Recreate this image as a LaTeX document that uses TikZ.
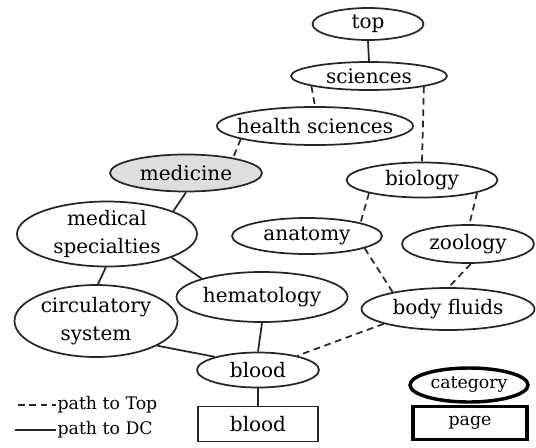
\documentclass[tikz,border=0pt]{standalone}
\usepackage{fontspec}
\setmainfont{DejaVu Serif}
\usetikzlibrary{shapes.geometric}
\begin{document}
\begin{tikzpicture}[x=0.75pt,y=-0.75pt,
  base/.style={inner sep=0pt,line width=1.3pt,draw=black!85},
  cat/.style n args={2}{base,ellipse,minimum width=#1*0.75pt,minimum height=#2*0.75pt},
  pg/.style n args={2}{base,rectangle,minimum width=#1*0.75pt,minimum height=#2*0.75pt},
  thickbox/.style={line width=2.6pt,draw=black},
  txt/.style={font=\fontsize{15}{21}\selectfont,align=center},
  smalltxt/.style={font=\fontsize{13}{16}\selectfont},
  dc/.style={line width=1.3pt,draw=black!85},
  tp/.style={line width=1.3pt,draw=black!85,dash pattern=on 5pt off 3.5pt},
]
\useasboundingbox (0,0) rectangle (536,447);
% category nodes
\node[cat={111}{32}, label={[txt]center:top}] (top) at (368,24) {};
\node[cat={156}{28}, label={[txt]center:sciences}] (sci) at (369,76) {};
\node[cat={196}{38}, label={[txt]center:health sciences}] (hs) at (315,126) {};
\node[cat={152}{37}, fill=black!13, label={[txt]center:medicine}] (med) at (186,173) {};
\node[cat={180}{65}, label={[txt]center:medical\\specialties}] (ms) at (107,234) {};
\node[cat={163}{72}, label={[txt]center:circulatory\\system}] (circ) at (96,321) {};
\node[cat={171}{50}, label={[txt]center:hematology}] (hem) at (262,297) {};
\node[cat={151}{35}, label={[txt]center:biology}] (bio) at (422,180) {};
\node[cat={150}{36}, label={[txt]center:anatomy}] (ana) at (307,236) {};
\node[cat={132}{38}, label={[txt]center:zoology}] (zoo) at (468,244) {};
\node[cat={173}{42}, label={[txt]center:body fluids}] (bf) at (448,309) {};
\node[cat={122}{35}, label={[txt]center:blood}] (blood) at (258,370) {};
\node[pg={120}{35}, label={[txt]center:blood}] (bpage) at (258,424) {};
% legend boxes
\node[cat={118}{34}, thickbox, label={[smalltxt]center:category}] (lcat) at (469,385) {};
\node[pg={114}{33}, thickbox, label={[smalltxt]center:page}] (lpage) at (470,423) {};
% edges
\draw[dc] (top.south) -- (sci.north);
\draw[tp] (sci.190) -- (hs.north);
\draw[tp] (sci.349) -- (bio.north);
\draw[tp] (hs.190) -- (med.18);
\draw[dc] (med.south) -- (ms.19);
\draw[dc] (ms.268) -- (circ.87);
\draw[dc] (ms.340) -- (hem.163);
\draw[tp] (bio.194) -- (ana.14);
\draw[tp] (bio.347) -- (zoo.86);
\draw[tp] (ana.348) -- (bf.163);
\draw[tp] (zoo.278) -- (bf.88);
\draw[tp] (bf.193) -- (blood.20);
\draw[dc] (hem.south) -- (blood.north);
\draw[dc] (circ.338) -- (blood.163);
\draw[dc] (blood.south) -- (bpage.north);
% line legend
\coordinate (ta) at (18,405);
\coordinate (tb) at (56,405);
\coordinate (da) at (15,430);
\coordinate (db) at (56,430);
\draw[tp] (ta) -- (tb);
\draw[dc] (da) -- (db);
\node[smalltxt,anchor=west,inner sep=1pt] (ltop) at (tb) {path to Top};
\node[smalltxt,anchor=west,inner sep=1pt] (ldc) at (db) {path to DC};
\end{tikzpicture}
\end{document}
